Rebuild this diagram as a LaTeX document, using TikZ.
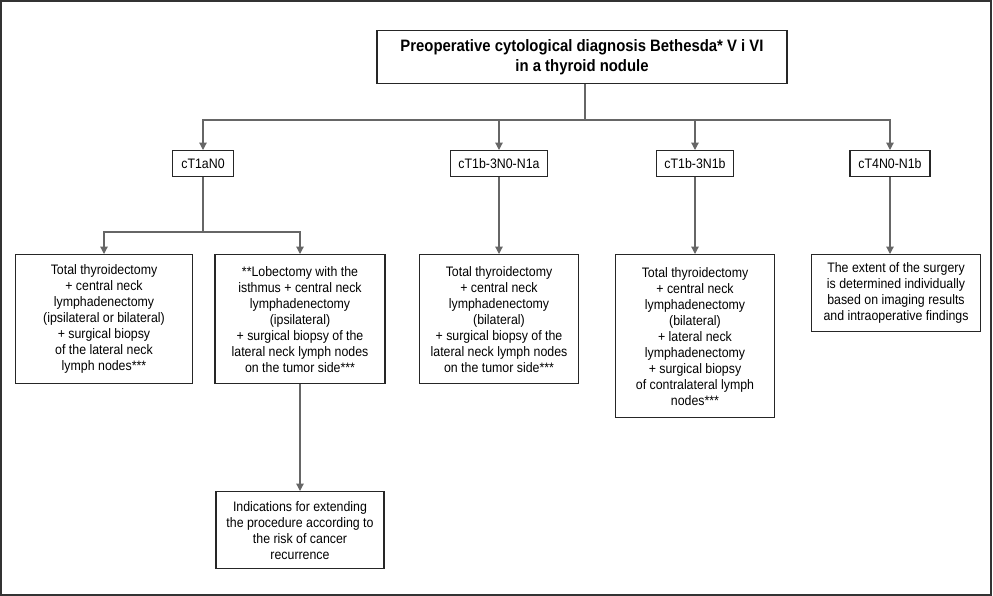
\documentclass[tikz,border=0pt]{standalone}
\usepackage{fontspec}
\setmainfont{Liberation Sans}[FakeStretch=0.9]
\usetikzlibrary{positioning,arrows.meta}

\begin{document}
\begin{tikzpicture}[x=0.75pt, y=-0.75pt, line width=0.9pt,
  box/.style={draw=black!85, align=center, anchor=north, inner sep=1pt,
    font=\fontsize{10.3}{12}\selectfont},
  stage/.style={box, minimum height=19.5pt},
  link/.style={draw=black!60},
  arr/.style={link, -{Triangle[length=5.5pt,width=5.5pt]}}]
  \useasboundingbox (0,0) rectangle (993,596);
  \draw[black!80, line width=1.5pt] (1,1) rectangle (991,594.5);

  % diagnosis
  \node[box, minimum width=307.5pt, minimum height=39.75pt,
    font=\bfseries\fontsize{12.4}{15.5}\selectfont] (diag) at (582,30)
    {Preoperative cytological diagnosis Bethesda* V i VI\\in a thyroid nodule};

  % stages
  \node[stage, minimum width=45.75pt] (t1) at (203,150) {cT1aN0};
  \node[stage, minimum width=72.75pt] (t2) at (499,150) {cT1b-3N0-N1a};
  \node[stage, minimum width=57.75pt] (t3) at (695,150) {cT1b-3N1b};
  \node[stage, minimum width=60pt] (t4) at (890,150) {cT4N0-N1b};

  % treatment
  \node[box, minimum width=132.75pt, minimum height=96.75pt] (a1) at (104,254)
    {Total thyroidectomy\\+ central neck\\lymphadenectomy\\(ipsilateral or bilateral)\\+ surgical biopsy\\of the lateral neck\\lymph nodes***};
  \node[box, minimum width=127.5pt, minimum height=96.75pt] (a2) at (300,254)
    {**Lobectomy with the\\isthmus + central neck\\lymphadenectomy\\(ipsilateral)\\+ surgical biopsy of the\\lateral neck lymph nodes\\on the tumor side***};
  \node[box, minimum width=119.25pt, minimum height=96.75pt] (b) at (499,254)
    {Total thyroidectomy\\+ central neck\\lymphadenectomy\\(bilateral)\\+ surgical biopsy of the\\lateral neck lymph nodes\\on the tumor side***};
  \node[box, minimum width=119.25pt, minimum height=122.25pt] (c) at (695,254)
    {Total thyroidectomy\\+ central neck\\lymphadenectomy\\(bilateral)\\+ lateral neck\\lymphadenectomy\\+ surgical biopsy\\of contralateral lymph\\nodes***};
  \node[box, minimum width=126.75pt, minimum height=57.75pt] (d) at (896,254)
    {The extent of the surgery\\is determined individually\\based on imaging results\\and intraoperative findings};
  \node[box, minimum width=126pt, minimum height=57.75pt] (e) at (300,491)
    {Indications for extending\\the procedure according to\\the risk of cancer\\recurrence};

  % connectors
  \coordinate (bus) at (585,120);
  \coordinate (split) at (203,232);
  \draw[link] (diag.south -| bus) -- (bus);
  \foreach \n in {t1,t2,t3,t4}
    \draw[arr] (bus) -| (\n);
  \draw[link] (t1) -- (split);
  \draw[arr] (split) -| (a1);
  \draw[arr] (split) -| (a2);
  \draw[arr] (t2) -- (b);
  \draw[arr] (t3) -- (c);
  \draw[arr] (t4) -- (t4 |- d.north);
  \draw[arr] (a2) -- (e);
\end{tikzpicture}
\end{document}
